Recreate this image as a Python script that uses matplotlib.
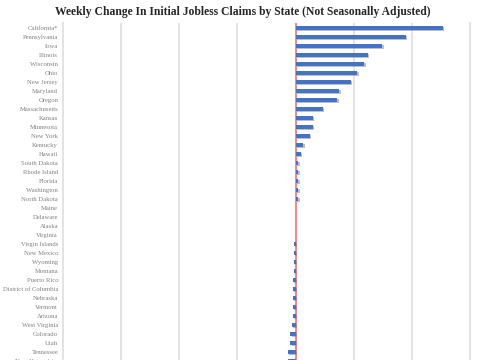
import numpy as np
import matplotlib
matplotlib.use("Agg")
from matplotlib import pyplot as plt
import matplotlib.patheffects as pe

# states in chart order (top to bottom), chart is cut off after New Hampshire
states = ['California*', 'Pennsylvania', 'Iowa', 'Illinois', 'Wisconsin', 'Ohio',
          'New Jersey', 'Maryland', 'Oregon', 'Massachusetts', 'Kansas', 'Minnesota',
          'New York', 'Kentucky', 'Hawaii', 'South Dakota', 'Rhode Island', 'Florida',
          'Washington', 'North Dakota', 'Maine', 'Delaware', 'Alaska', 'Virginia',
          'Virgin Islands', 'New Mexico', 'Wyoming', 'Montana', 'Puerto Rico',
          'District of Columbia', 'Nebraska', 'Vermont', 'Arizona', 'West Virginia',
          'Colorado', 'Utah', 'Tennessee', 'New Hampshire']

# weekly change (in thousands)
change = [2.53, 1.90, 1.49, 1.24, 1.18, 1.06,
          0.95, 0.75, 0.72, 0.47, 0.30, 0.30,
          0.24, 0.13, 0.09, 0.05, 0.05, 0.05,
          0.05, 0.05, 0.0, 0.0, 0.0, 0.0,
          -0.03, -0.03, -0.03, -0.03, -0.05,
          -0.05, -0.05, -0.05, -0.05, -0.06,
          -0.09, -0.09, -0.13, -0.13]

x_ticks = [-4, -3, -2, -1, 0, 1, 2, 3]

plt.rcParams['font.family'] = ['Liberation Serif', 'DejaVu Serif']

W, H = 485, 360
fig = plt.figure(figsize=(W / 100, H / 100), dpi=100)

# axes runs past the bottom edge of the figure, like the cropped original
top_px, bot_px = 23, 400
ax = fig.add_axes([63 / W, 1 - bot_px / H, (470 - 63) / W, (bot_px - top_px) / H])

y = np.arange(len(states))
shadow = [pe.SimplePatchShadow(offset=(1, -1), shadow_rgbFace='#7f7f7f', alpha=0.5), pe.Normal()]
bars = ax.barh(y, change, height=0.42, color='#4472c4', zorder=5)
for b in bars:
    b.set_path_effects(shadow)

ax.axvline(0, color='#f4888a', linewidth=1.5, zorder=4)

ax.set_xlim(-4, 3)
ax.set_ylim((bot_px - 28) / 9, -0.55)
ax.set_xticks(x_ticks)
ax.set_xticklabels([])
ax.set_yticks(y)
ax.set_yticklabels(states, fontsize=4.8, color='#808080')
ax.tick_params(length=0, pad=3.5)
ax.grid(axis='x', color='#e3e3e3', linewidth=1.4, zorder=0)
for s in ['top', 'bottom']:
    ax.spines[s].set_visible(False)
for s in ['left', 'right']:
    ax.spines[s].set_color('#e3e3e3')
    ax.spines[s].set_linewidth(1.4)

fig.text(0.5, 1 - 12 / H, 'Weekly Change In Initial Jobless Claims by State (Not Seasonally Adjusted)',
         ha='center', va='center', fontsize=8.4, fontweight='bold', color='#262626')

fig.savefig('out.png', dpi=100)
